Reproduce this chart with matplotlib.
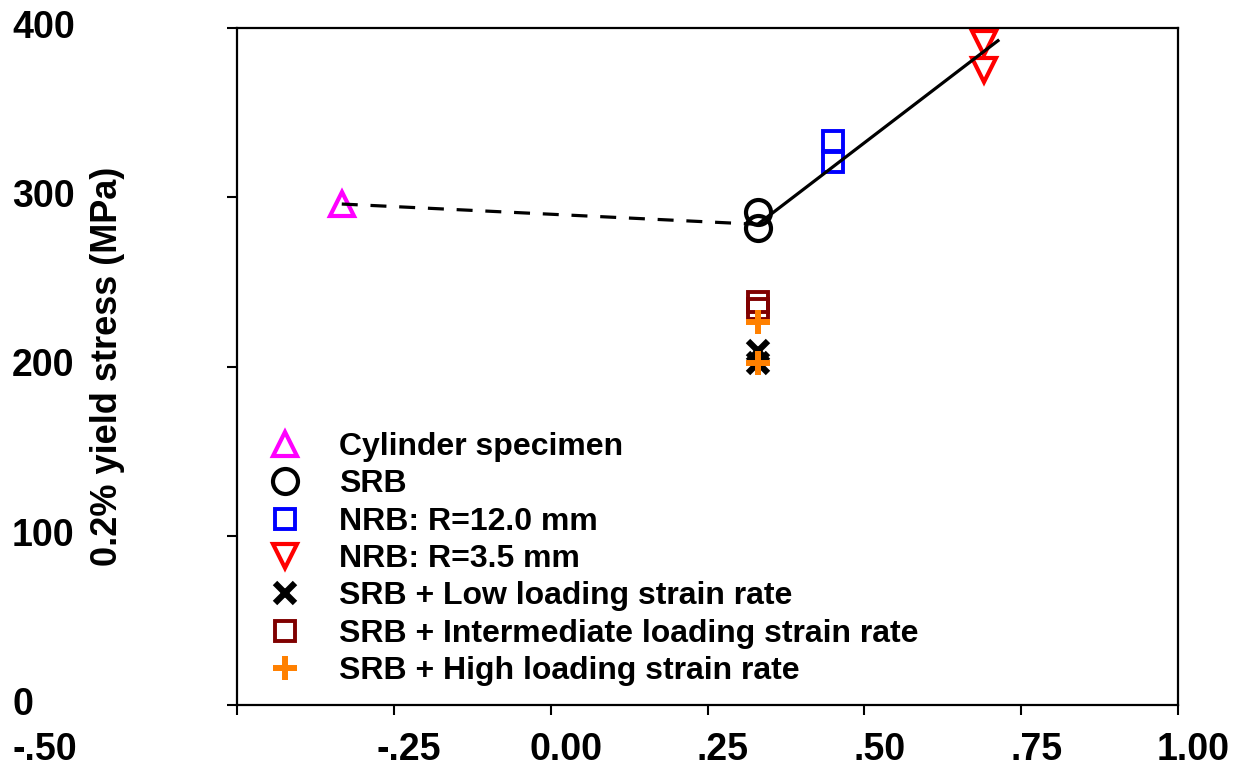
import matplotlib
matplotlib.use("Agg")
import matplotlib.pyplot as plt
from matplotlib.transforms import blended_transform_factory, ScaledTranslation

plt.rcParams['font.family'] = ['Liberation Sans', 'DejaVu Sans']
plt.rcParams['font.weight'] = 'bold'

# ---- data ----
cyl_x = [-0.333]
cyl_y = [296]
srb_x = [0.33, 0.33]
srb_y = [291, 282]
nrb12_x = [0.45, 0.45]
nrb12_y = [333, 321]
nrb35_x = [0.69, 0.69]
nrb35_y = [391, 375]
low_x = [0.33, 0.33]
low_y = [209, 202]
inter_x = [0.33, 0.33]
inter_y = [238, 234]
high_x = [0.33, 0.33]
high_y = [226, 202]
dash_x = [-0.333, 0.33]
dash_y = [296, 284]
fit_x = [0.33, 0.713]
fit_y = [284, 392.5]

xticks = [-0.5, -0.25, 0.0, 0.25, 0.5, 0.75, 1.0]
xticklabels = ['-.50', '-.25', '0.00', '.25', '.50', '.75', '1.00']
yticks = [0, 100, 200, 300, 400]
yticklabels = ['0', '100', '200', '300', '400']

W, H = 1241, 774
fig = plt.figure(figsize=(W / 100, H / 100), dpi=100)
ax = fig.add_axes([237 / W, 1 - 705 / H, (1178 - 237) / W, (705 - 28) / H])
ax.set_xlim(-0.5, 1.0)
ax.set_ylim(0, 400)

ax.plot(dash_x, dash_y, color='black', lw=2.3, ls=(0, (5, 4)), zorder=5)
ax.plot(fit_x, fit_y, color='black', lw=2.3, zorder=5)

mk = dict(ls='none', mfc='none')
h1, = ax.plot(cyl_x, cyl_y, marker='^', ms=17, mew=3, mec='#FF00FF', label='Cylinder specimen', **mk)
h2, = ax.plot(srb_x, srb_y, marker='o', ms=18, mew=3, mec='black', label='SRB', **mk)
h3, = ax.plot(nrb12_x, nrb12_y, marker='s', ms=14.5, mew=2.8, mec='#0000FF', label='NRB: R=12.0 mm', **mk)
h4, = ax.plot(nrb35_x, nrb35_y, marker='v', ms=17, mew=3, mec='#FF0000', label='NRB: R=3.5 mm', **mk)
h5, = ax.plot(low_x, low_y, marker='x', ms=14, mew=4.5, mec='black', label='SRB + Low loading strain rate', **mk)
h6, = ax.plot(inter_x, inter_y, marker='s', ms=14.5, mew=2.8, mec='#800000', label='SRB + Intermediate loading strain rate', **mk)
h7, = ax.plot(high_x, high_y, marker='+', ms=17, mew=4.3, mec='#FF8000', label='SRB + High loading strain rate', **mk)

fs_leg = 23
leg = ax.legend(handles=[h1, h2, h3, h4, h5, h6, h7], loc='upper left',
                bbox_to_anchor=((259 - 237) / 941, (705 - 432) / 677),
                frameon=False, fontsize=fs_leg, borderpad=0, borderaxespad=0,
                handlelength=1.6, handletextpad=0.9, labelspacing=0.23,
                numpoints=1)

for s in ax.spines.values():
    s.set_linewidth(1.6)
ax.tick_params(direction='out', length=7, width=1.5, labelbottom=False, labelleft=False)
ax.set_xticks(xticks)
ax.set_yticks(yticks)

# tick labels placed as in the reference
ty = blended_transform_factory(fig.transFigure, ax.transData)
for v, lab in zip(yticks, yticklabels):
    ax.text(12 / W, v, lab, transform=ty, ha='left', va='center', fontsize=27, fontweight='bold')

tx = blended_transform_factory(ax.transData, fig.transFigure) + ScaledTranslation(0.15, 0, fig.dpi_scale_trans)
for v, lab in zip(xticks, xticklabels):
    if v == xticks[0]:
        fig.text(12 / W, 1 - 750 / H, lab, ha='left', va='center', fontsize=27, fontweight='bold')
    else:
        ax.text(v, 1 - 750 / H, lab, transform=tx, ha='center', va='center', fontsize=27, fontweight='bold')

ax.set_ylabel('0.2% yield stress (MPa)', fontsize=26, fontweight='bold')
ax.yaxis.set_label_coords((125 - 237) / (1178 - 237), 0.5)

fig.savefig('out.png', dpi=100)
